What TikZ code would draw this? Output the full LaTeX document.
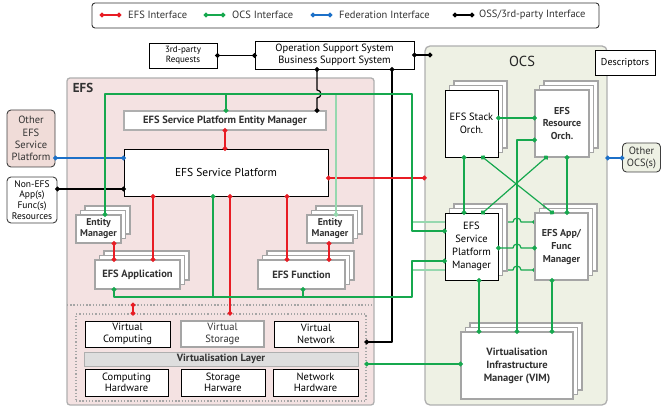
\documentclass[tikz,border=0pt]{standalone}
\usepackage{fontspec}
\setmainfont{PT Sans}
\usetikzlibrary{arrows.meta,calc}

\definecolor{efsred}{RGB}{232,28,36}
\definecolor{ocsgreen}{RGB}{22,168,78}
\definecolor{fedblue}{RGB}{28,112,200}
\definecolor{efspink}{RGB}{244,226,226}
\definecolor{peerpink}{RGB}{240,220,216}
\definecolor{ocstint}{RGB}{238,241,228}
\definecolor{rim}{RGB}{175,175,175}
\definecolor{sheetgray}{RGB}{165,165,165}
\definecolor{inkgray}{RGB}{50,50,50}
\definecolor{layergray}{RGB}{222,222,222}

\pgfdeclarelayer{panels}
\pgfdeclarelayer{under}
\pgfsetlayers{panels,under,main}

% two paper sheets peeking out behind a box: centre x, centre y, width, height
\newcommand{\sheets}[4]{%
  \foreach \d in {9,4.5}{\draw[sheet] ({#1-#3/2+\d},{#2-#4/2-\d}) rectangle ++(#3,#4);}}

\tikzset{
  txt/.style 2 args={font=\fontsize{#1}{#2}\selectfont},
  box/.style={draw=black, fill=white, line width=0.9pt, inner sep=1pt, align=center, text=black},
  softbox/.style={box, draw=sheetgray, line width=1.1pt, text=inkgray},
  sheet/.style={draw=sheetgray, fill=white, line width=1.1pt},
  wire/.style={line width=1.2pt, line join=round},
  dotboth/.style={{Circle[length=4.8pt]}-{Circle[length=4.8pt]}, shorten <=-2.4pt, shorten >=-2.4pt},
  dotend/.style={-{Circle[length=4.8pt]}, shorten >=-2.4pt},
  dotstart/.style={{Circle[length=4.8pt]}-, shorten <=-2.4pt},
  efsw/.style={wire, draw=efsred},
  ocsw/.style={wire, draw=ocsgreen},
  faintw/.style={wire, draw=ocsgreen!45},
  fedw/.style={wire, draw=fedblue},
  ossw/.style={wire, draw=black},
  dotsline/.style={draw=sheetgray, line width=1.3pt, dash pattern=on 1.3pt off 1.9pt},
  legtext/.style={anchor=west, inner sep=0pt, txt={10.5}{12}, text=inkgray},
}

\begin{document}
\begin{tikzpicture}[x=1pt,y=-1pt]
\useasboundingbox (0,0) rectangle (667,411);

% ---------------- legend ----------------
\node[draw=black!80, rounded corners=3pt, line width=0.9pt, minimum width=507, minimum height=25] (legend) at (345.5,15.5) {};
\coordinate (la1) at (102,15); \coordinate (la2) at (119,15);
\coordinate (lb1) at (206,15); \coordinate (lb2) at (223,15);
\coordinate (lc1) at (313,15); \coordinate (lc2) at (330,15);
\coordinate (ld1) at (455,15); \coordinate (ld2) at (472,15);
\draw[efsw,dotboth] (la1) -- (la2);
\draw[ocsw,dotboth] (lb1) -- (lb2);
\draw[fedw,dotboth] (lc1) -- (lc2);
\draw[ossw,dotboth] (ld1) -- (ld2);
\node[legtext] (lta) at (128,15) {EFS Interface};
\node[legtext] (ltb) at (232,15) {OCS Interface};
\node[legtext] (ltc) at (339,15) {Federation Interface};
\node[legtext] (ltd) at (479,15) {OSS/3rd-party Interface};

% ---------------- domain panels ----------------
\begin{pgfonlayer}{panels}
\node[draw=rim, fill=efspink, rounded corners=3pt, line width=1.3pt, minimum width=307, minimum height=327] (efs) at (220.5,241.5) {};
\node[draw=rim, fill=ocstint, rounded corners=5pt, line width=1.3pt, minimum width=182, minimum height=359] (ocs) at (516,225.5) {};
\end{pgfonlayer}
\node[font=\bfseries\fontsize{13}{15}\selectfont, text=inkgray] (efstitle) at (83,88) {EFS};
\node[txt={14.5}{16}, text=black!85] (ocstitle) at (522,61) {OCS};

% ---------------- management ----------------
\node[box, minimum width=68, minimum height=25, txt={9}{10.5}] (tpr) at (183,55.5) {3rd-party\\Requests};
\node[box, minimum width=159, minimum height=28, txt={10.5}{12.5}] (oss) at (334.5,55) {Operation Support System\\Business Support System};
\node[box, minimum width=60, minimum height=25, txt={10}{12}] (desc) at (625,62.5) {Descriptors};

% ---------------- peers outside the domains ----------------
\node[box, fill=peerpink, draw=black!75, rounded corners=4pt, minimum width=48, minimum height=57, txt={10.5}{12.3}, text=inkgray] (othefs) at (31,138.5) {Other\\EFS\\Service\\Platform};
\node[box, draw=black!75, rounded corners=4pt, minimum width=50, minimum height=46, txt={9.5}{10.8}] (nonefs) at (32,200) {Non-EFS\\App(s)\\Func(s)\\Resources};
\node[box, fill=ocstint, draw=black!75, rounded corners=4pt, minimum width=38, minimum height=29, txt={10.5}{12}, text=inkgray] (othocs) at (641.5,157.5) {Other\\OCS(s)};

% ---------------- EFS domain ----------------
\node[softbox, draw=rim, minimum width=202, minimum height=19, font=\bfseries\fontsize{10.5}{12}\selectfont] (spem) at (225,120.5) {EFS Service Platform Entity Manager};
\node[box, minimum width=204, minimum height=47, txt={11.5}{13}] (esp) at (226,172.5) {EFS Service Platform};

\sheets{98.5}{229}{45}{28}
\node[softbox, minimum width=45, minimum height=28, font=\bfseries\fontsize{9.8}{11}\selectfont] (emL) at (98.5,229) {Entity\\Manager};
\sheets{330}{229}{46}{28}
\node[softbox, minimum width=46, minimum height=28, font=\bfseries\fontsize{9.8}{11}\selectfont] (emR) at (330,229) {Entity\\Manager};
\sheets{137.5}{274.5}{85}{29}
\node[softbox, minimum width=85, minimum height=29, font=\bfseries\fontsize{10.5}{12}\selectfont] (app) at (137.5,274.5) {EFS Application};
\sheets{301.5}{274.5}{87}{29}
\node[softbox, minimum width=87, minimum height=29, font=\bfseries\fontsize{10.5}{12}\selectfont] (func) at (301.5,274.5) {EFS Function};

% infrastructure block
\coordinate (sepl) at (67,305); \coordinate (sepr) at (374,305);
\draw[dotsline] (sepl) -- (sepr);
\node[dotsline, minimum width=290, minimum height=87] (infra) at (221,357.5) {};
\node[box, minimum width=85, minimum height=26, txt={10.5}{11.5}] (vcomp) at (127.5,334) {Virtual\\Computing};
\node[softbox, minimum width=83, minimum height=26, txt={10.5}{11.5}] (vstor) at (222.5,334) {Virtual\\Storage};
\node[box, minimum width=84, minimum height=26, txt={10.5}{11.5}] (vnet) at (316,334) {Virtual\\Network};
\node[box, draw=rim, fill=layergray, minimum width=274, minimum height=14, font=\bfseries\fontsize{10.5}{11}\selectfont, text=inkgray] (vlayer) at (221,359) {Virtualisation Layer};
\node[box, minimum width=83, minimum height=27, txt={10.5}{11.5}] (hcomp) at (126.5,382.5) {Computing\\Hardware};
\node[box, minimum width=84, minimum height=27, txt={10.5}{11.5}] (hstor) at (223,382.5) {Storage\\Harware};
\node[box, minimum width=85, minimum height=27, txt={10.5}{11.5}] (hnet) at (315.5,382.5) {Network\\Hardware};

% ---------------- OCS domain ----------------
\sheets{471.5}{123.5}{53}{67}
\node[box, minimum width=53, minimum height=67, txt={10.5}{12.5}] (stack) at (471.5,123.5) {EFS Stack\\Orch.};
\sheets{562}{123.5}{54}{67}
\node[softbox, minimum width=54, minimum height=67, font=\bfseries\fontsize{10}{12.5}\selectfont] (resorch) at (562,123.5) {EFS\\Resource\\Orch.};
\sheets{471.5}{246.5}{53}{67}
\node[box, minimum width=53, minimum height=67, txt={10.5}{13}] (espm) at (471.5,246.5) {EFS\\Service\\Platform\\Manager};
\sheets{561.5}{246.5}{53}{67}
\node[softbox, minimum width=53, minimum height=67, font=\bfseries\fontsize{10}{13}\selectfont] (appfunc) at (561.5,246.5) {EFS App/\\Func\\Manager};
\sheets{517}{365.5}{112}{67}
\node[softbox, minimum width=112, minimum height=67, font=\bfseries\fontsize{10.5}{13}\selectfont] (vim) at (517,365.5) {Virtualisation\\Infrastructure\\Manager (VIM)};

% ---------------- OSS / 3rd-party interface ----------------
\coordinate (ocsport) at (430,55);
\draw[ossw,dotboth] (tpr.east) -- (tpr.east -| oss.west);
\draw[ossw,dotboth] (oss.east) -- (ocsport);
\draw[ossw,dotboth] (oss.south -| 392,0) -- (392,342) -- (infra.east |- 0,342);
\draw[ossw,dotboth] (oss.south -| 317,0) -- (317,90) arc[start angle=-90,end angle=90,radius=4] -- (spem.north -| 317,0);
\draw[ossw,dotboth] (nonefs.east |- 0,189) -- (esp.west |- 0,189);

% ---------------- federation interface ----------------
\draw[fedw,dotboth] (othefs.east |- 0,158) -- (esp.west |- 0,158);
\draw[fedw,dotboth] (ocs.east |- 0,158) -- (othocs.west |- 0,158);

% ---------------- EFS interface ----------------
\draw[efsw,dotboth] (spem.south -| 225,0) -- (esp.north -| 225,0);
\draw[efsw,dotboth] (esp.east |- 0,178) -- (ocs.west |- 0,178);
\draw[efsw,dotboth] (esp.south -| 153,0) -- (app.north -| 153,0);
\draw[efsw,dotboth] (esp.south -| 230,0) -- (infra.north -| 230,0);
\draw[efsw,dotboth] (esp.south -| 287,0) -- (func.north -| 287,0);
\draw[efsw,dotboth] (emL.south -| 114,0) -- (app.north -| 114,0);
\draw[efsw,dotboth] (emR.south -| 329,0) -- (func.north -| 329,0);
\draw[efsw,dotboth] (sepl -| 133,0) -- (infra.north -| 133,0);

% ---------------- OCS interface ----------------
% links running behind the platform manager to the app/func manager
\begin{pgfonlayer}{under}
\draw[ocsw,dotend] (412,222) -- (513,222) arc[start angle=180,end angle=360,radius=4] -- (appfunc.west |- 0,222);
\draw[ocsw,dotend] (412,270) -- (513,270) arc[start angle=180,end angle=360,radius=4] -- (appfunc.west |- 0,270);
\end{pgfonlayer}
\draw[faintw] (412,222) -- (espm.west |- 0,222);
\draw[faintw] (412,270) -- (espm.west |- 0,270);

\draw[faintw,dotstart] (emR.north -| 336,0) -- (336,94);
\draw[ocsw,dotboth] (emL.north -| 105,0) -- (105,94) -- (412,94) -- (412,231) -- (espm.west |- 0,231);
\draw[ocsw,dotstart] (spem.north -| 226,0) -- (226,94);
\draw[ocsw,dotboth] (app.south -| 114,0) -- (114,297) -- (412,297) -- (412,261) -- (espm.west |- 0,261);
\draw[ocsw,dotstart] (esp.south -| 213,0) -- (213,297);
\draw[ocsw,dotstart] (func.south -| 303,0) -- (303,297);
\draw[ocsw,dotboth] (infra.east |- 0,364) -- (vim.west |- 0,364);

\draw[ocsw,dotboth] (espm.east |- 0,248) -- (513,248) arc[start angle=180,end angle=360,radius=4] -- (appfunc.west |- 0,248);
\draw[ocsw,dotboth] (stack.east |- 0,118) -- (resorch.west |- 0,118);
\draw[ocsw,dotboth] (resorch.west |- 0,140) -- (517,140) -- (vim.north -| 517,0);
\draw[ocsw,dotboth] (stack.south -| 464,0) -- (espm.north -| 464,0);
\draw[ocsw,dotboth] (stack.south -| 483,0) -- (appfunc.north -| 552,0);
\draw[ocsw,dotboth] (resorch.south -| 546,0) -- (espm.north -| 483,0);
\draw[ocsw,dotboth] (resorch.south -| 567,0) -- (appfunc.north -| 567,0);
\draw[ocsw,dotboth] (espm.south -| 479,0) -- (vim.north -| 479,0);
\draw[ocsw,dotboth] (appfunc.south -| 552,0) -- (vim.north -| 552,0);
\end{tikzpicture}
\end{document}
